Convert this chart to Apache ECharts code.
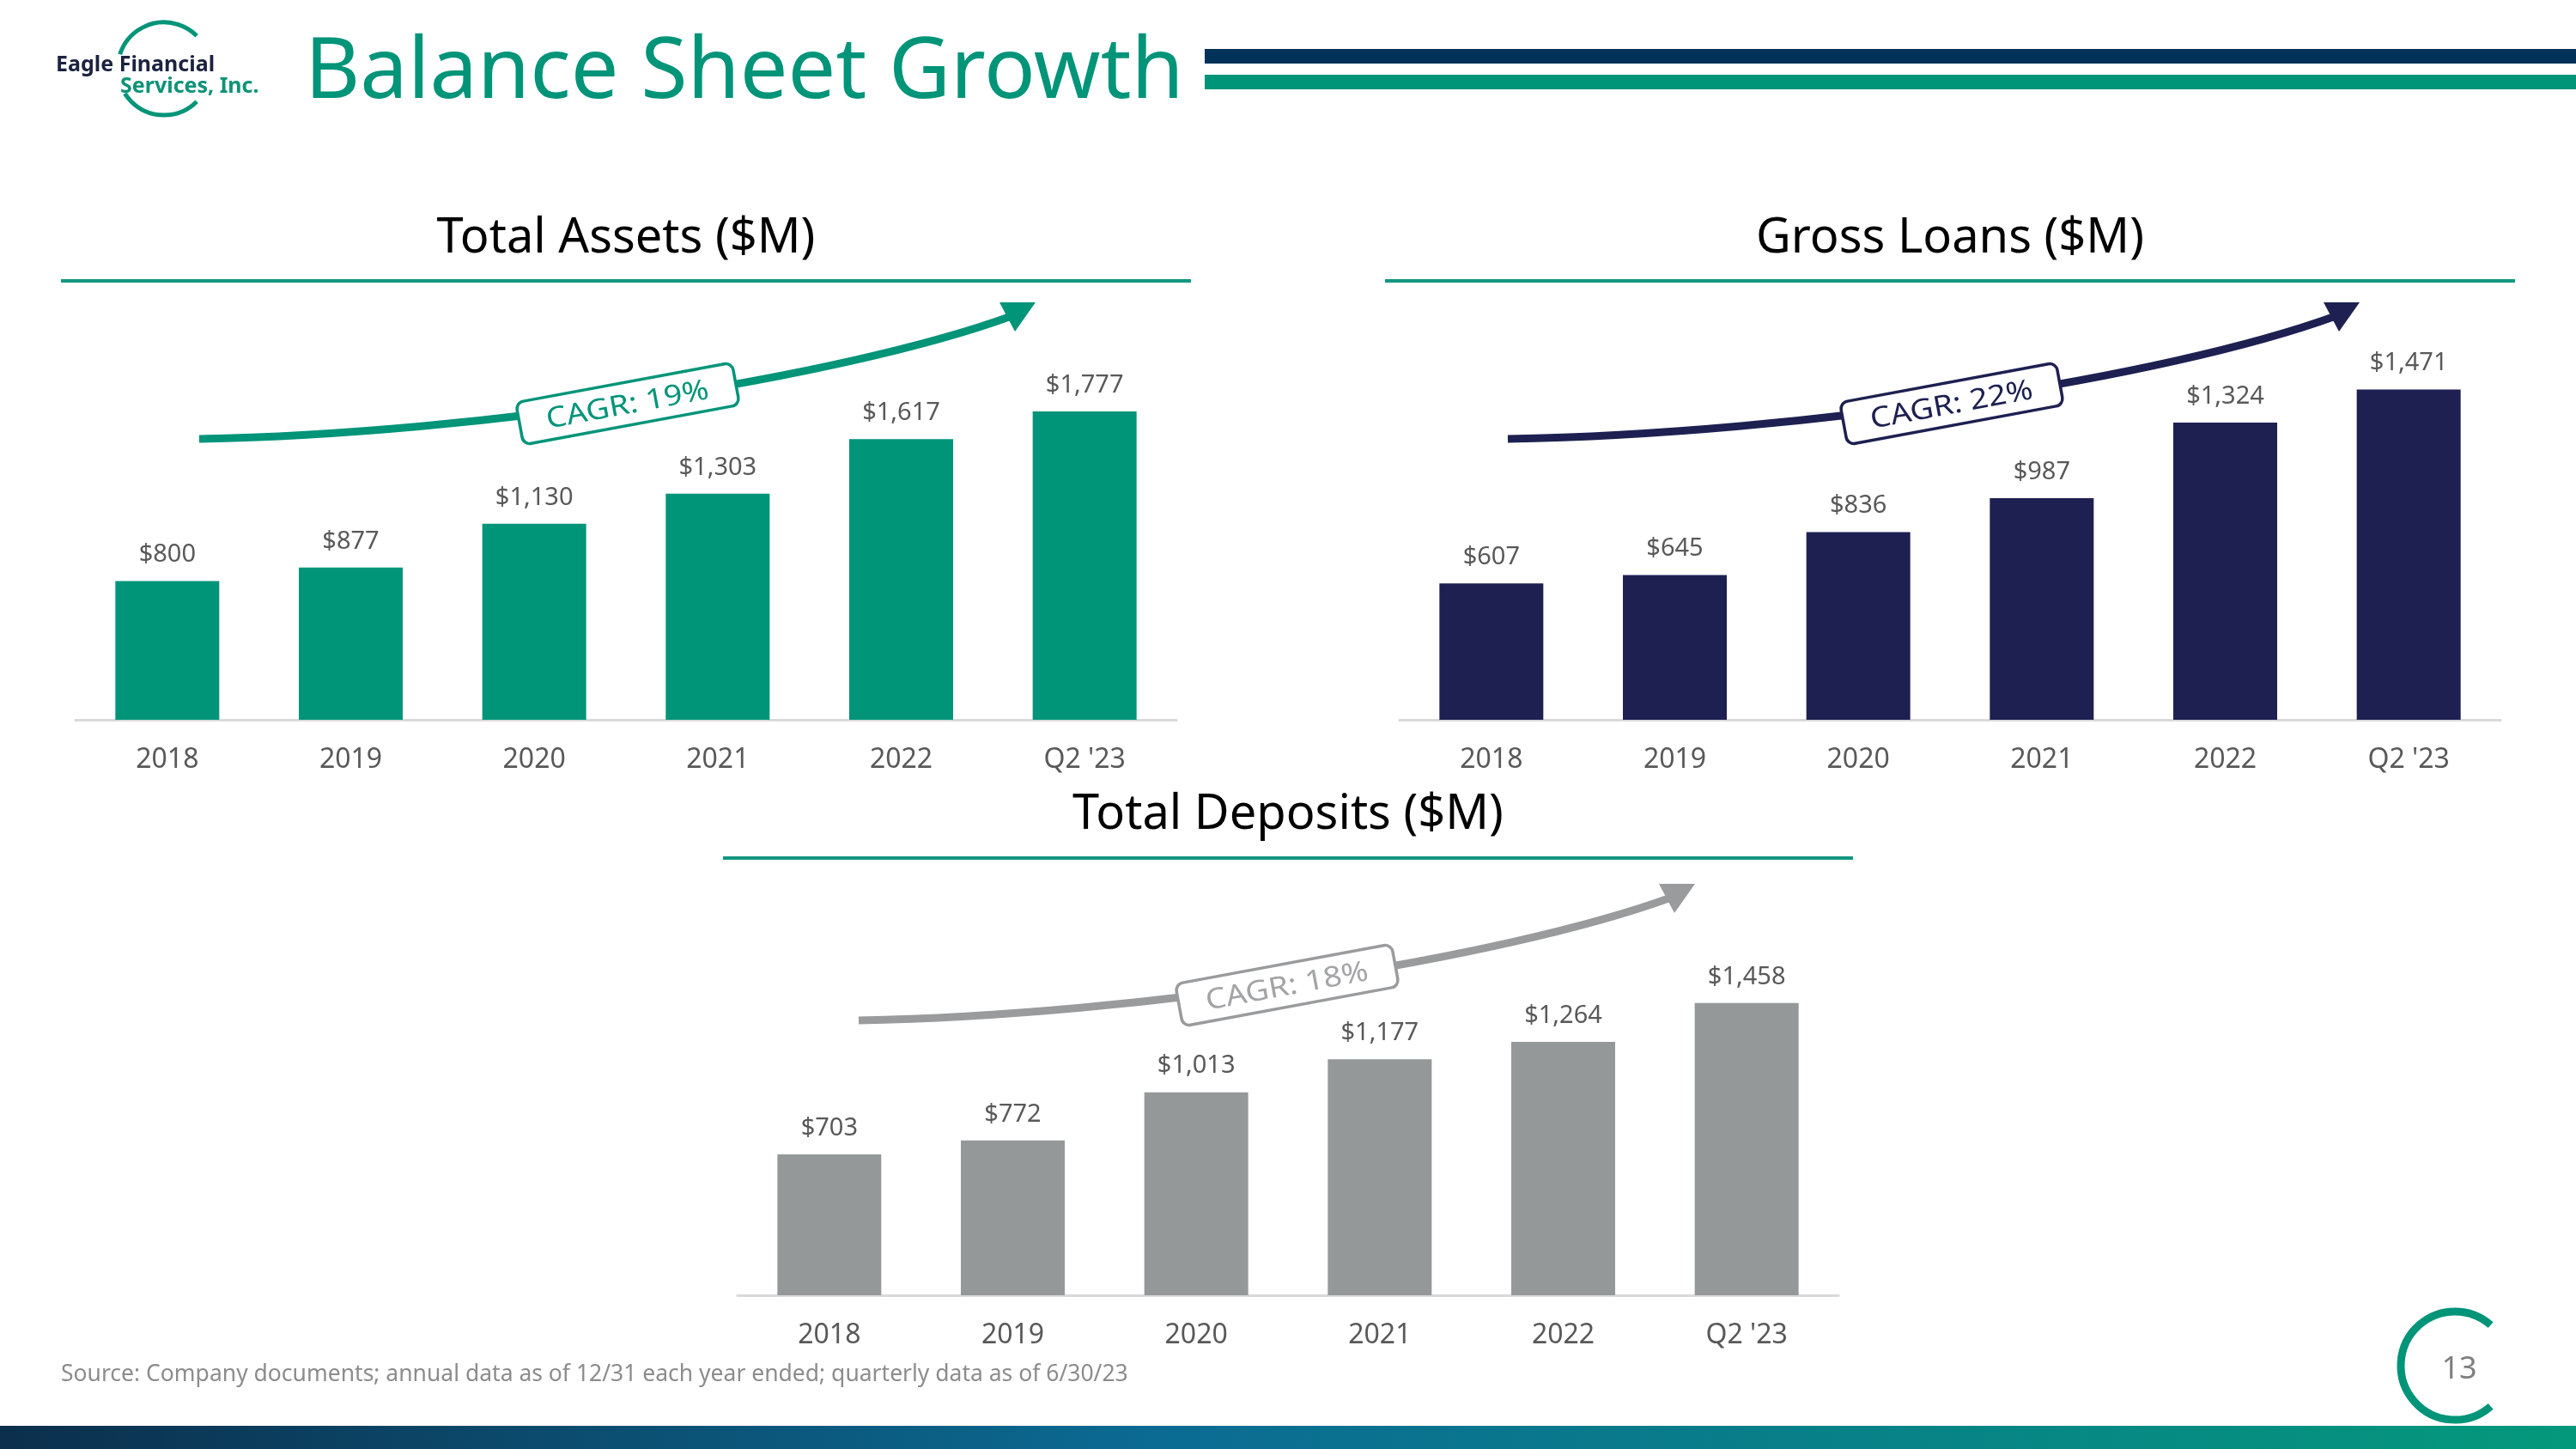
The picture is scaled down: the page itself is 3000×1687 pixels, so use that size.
<!DOCTYPE html>
<html>
<head>
<meta charset="utf-8">
<title>Balance Sheet Growth</title>
<script src="https://cdn.jsdelivr.net/npm/echarts@6/dist/echarts.min.js"></script>
<style>
  html, body { margin: 0; padding: 0; background: #fff; }
  #main { width: 3000px; height: 1687px; }
</style>
</head>
<body>
<div id="main"></div>
<script>
// chart data
const categories = ['2018', '2019', '2020', '2021', '2022', "Q2 '23"];
const totalAssets = [800, 877, 1130, 1303, 1617, 1777];
const grossLoans = [607, 645, 836, 987, 1324, 1471];
const totalDeposits = [703, 772, 1013, 1177, 1264, 1458];
const panelTitles = ['Total Assets ($M)', 'Gross Loans ($M)', 'Total Deposits ($M)'];
const cagrLabels = ['CAGR: 19%', 'CAGR: 22%', 'CAGR: 18%'];

const FONT = '"Noto Sans", "Open Sans", sans-serif';
const TEAL = '#009479';
const NAVY = '#1d2050';
const GREY = '#959899';
const LABEL = '#595959';

// layout of the three panels (axis left edge, baseline, plot height, y max)
const panels = [
  { data: totalAssets, left: 88, base: 838, height: 404, max: 2000, color: TEAL, arrow: TEAL, text: TEAL, dx: 0, dy: 0, sx: 0 },
  { data: grossLoans, left: 1630, base: 838, height: 392, max: 1500, color: NAVY, arrow: NAVY, text: NAVY, dx: 0, dy: 0, sx: -18 },
  { data: totalDeposits, left: 859, base: 1508, height: 350, max: 1500, color: GREY, arrow: '#999b9c', text: '#a2a4a5', dx: -3, dy: 7, sx: 0 }
];
const PW = 1282;

const fmt = v => '$' + v.toLocaleString('en-US');

var chart = echarts.init(document.getElementById('main'));

// curved CAGR arrow, drawn relative to the panel's axis origin
const arrowGroup = (p, i) => {
  const ox = p.left + p.dx, oy = p.base + p.dy;
  const rot = 10.5 * Math.PI / 180;
  return [
    {
      type: 'bezierCurve',
      shape: { x1: ox + 144 + p.sx, y1: oy - 327, cpx1: ox + 472, cpy1: oy - 333, cpx2: ox + 892, cpy2: oy - 398, x2: ox + 1090, y2: oy - 470 },
      style: { stroke: p.arrow, lineWidth: 9, fill: null },
      z: 10
    },
    {
      type: 'polygon',
      shape: { points: [[ox + 1118, oy - 486], [ox + 1076, oy - 486], [ox + 1094, oy - 452]] },
      style: { fill: p.arrow },
      z: 10
    },
    {
      type: 'rect',
      x: ox + 643, y: oy - 368,
      rotation: rot,
      shape: { x: -128, y: -25, width: 256, height: 50, r: 9 },
      style: { fill: '#fff', stroke: p.arrow, lineWidth: 3.5 },
      z: 11
    },
    {
      type: 'text',
      x: ox + 643, y: oy - 366,
      rotation: rot,
      scaleX: 1.14,
      style: { text: cagrLabels[i], fill: p.text, font: '33px ' + FONT, align: 'center', verticalAlign: 'middle', textAlign: 'center', textVerticalAlign: 'middle' },
      z: 12
    }
  ];
};

const panelHeader = (p, i) => {
  const cx = p.left + PW / 2;
  const ty = i < 2 ? 278 : 949;
  const ly = i < 2 ? 325 : 997;
  return [
    {
      type: 'text', x: cx, y: ty,
      style: { text: panelTitles[i], fill: '#000', font: '56px ' + FONT, align: 'center', verticalAlign: 'middle', textAlign: 'center', textVerticalAlign: 'middle' }
    },
    { type: 'rect', shape: { x: cx - 658, y: ly, width: 1316, height: 4 }, style: { fill: '#12977f' } }
  ];
};

let graphics = [
  // header bars
  { type: 'rect', shape: { x: 1403, y: 57, width: 1597, height: 17 }, style: { fill: '#00325a' } },
  { type: 'rect', shape: { x: 1403, y: 87, width: 1597, height: 17 }, style: { fill: TEAL } },
  {
    type: 'text', x: 355, y: 86,
    style: { text: 'Balance Sheet Growth', fill: TEAL, font: '99px ' + FONT, align: 'left', verticalAlign: 'middle', textVerticalAlign: 'middle' }
  },
  // logo
  { type: 'arc', shape: { cx: 191, cy: 80, r: 54, startAngle: Math.PI * 1.1, endAngle: Math.PI * 1.75, clockwise: true }, style: { stroke: TEAL, lineWidth: 5, fill: null } },
  { type: 'arc', shape: { cx: 191, cy: 80, r: 54, startAngle: Math.PI * 0.25, endAngle: Math.PI * 0.82, clockwise: true }, style: { stroke: TEAL, lineWidth: 5, fill: null } },
  { type: 'text', x: 65, y: 76, style: { text: 'Eagle Financial', fill: '#1b2340', font: 'bold 25px ' + FONT, verticalAlign: 'middle', textVerticalAlign: 'middle' } },
  { type: 'text', x: 140, y: 101, style: { text: 'Services, Inc.', fill: '#0d9377', font: 'bold 25px ' + FONT, verticalAlign: 'middle', textVerticalAlign: 'middle' } },
  // footnote
  {
    type: 'text', x: 71, y: 1600,
    style: { text: 'Source: Company documents; annual data as of 12/31 each year ended; quarterly data as of 6/30/23', fill: '#8c8c8c', font: '26.5px ' + FONT, verticalAlign: 'middle', textVerticalAlign: 'middle' }
  },
  // page number badge
  { type: 'arc', shape: { cx: 2859, cy: 1590, r: 63, startAngle: Math.PI * 0.27, endAngle: Math.PI * 1.73, clockwise: true }, style: { stroke: TEAL, lineWidth: 9, fill: null } },
  { type: 'text', x: 2864, y: 1595, style: { text: '13', fill: '#7f7f7f', font: '36px ' + FONT, align: 'center', verticalAlign: 'middle', textAlign: 'center', textVerticalAlign: 'middle' } },
  // footer band
  {
    type: 'rect', shape: { x: 0, y: 1660, width: 3000, height: 27 },
    style: {
      fill: new echarts.graphic.LinearGradient(0, 0, 1, 0, [
        { offset: 0, color: '#0b2f4c' },
        { offset: 0.45, color: '#0b6b93' },
        { offset: 1, color: '#04987b' }
      ])
    }
  }
];
panels.forEach((p, i) => {
  graphics = graphics.concat(panelHeader(p, i), arrowGroup(p, i));
});

var option = {
  backgroundColor: '#fff',
  animation: false,
  textStyle: { fontFamily: FONT },
  grid: panels.map(p => ({ left: p.left, width: PW, top: p.base - p.height, height: p.height })),
  xAxis: panels.map((p, i) => ({
    type: 'category',
    gridIndex: i,
    data: categories,
    axisLine: { lineStyle: { color: '#d9d9d9', width: 3 } },
    axisTick: { show: false },
    axisLabel: { color: LABEL, fontSize: 32, margin: 31, fontFamily: FONT }
  })),
  yAxis: panels.map((p, i) => ({
    type: 'value',
    gridIndex: i,
    min: 0,
    max: p.max,
    show: false,
    splitLine: { show: false }
  })),
  series: panels.map((p, i) => ({
    type: 'bar',
    xAxisIndex: i,
    yAxisIndex: i,
    data: p.data,
    barWidth: 121,
    itemStyle: { color: p.color },
    label: {
      show: true,
      position: 'top',
      distance: 16,
      color: LABEL,
      fontSize: 29,
      fontFamily: FONT,
      formatter: d => fmt(d.value)
    }
  })),
  graphic: graphics
};
option && chart.setOption(option);
</script>
</body>
</html>
